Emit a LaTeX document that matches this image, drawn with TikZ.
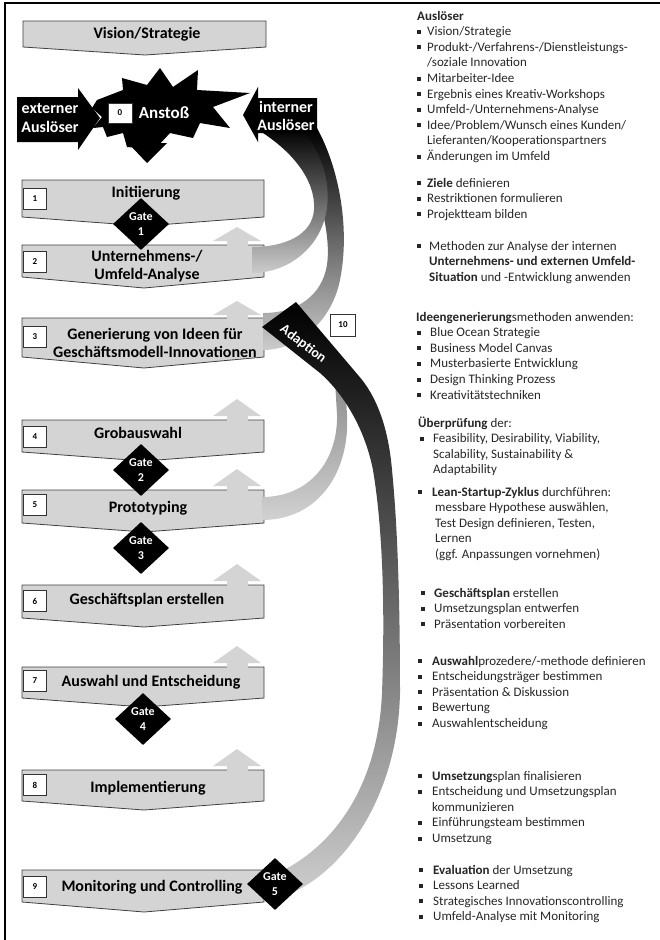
\documentclass[tikz,border=0pt]{standalone}
\usepackage{fontspec}
\setmainfont{Carlito}
\usetikzlibrary{shapes.geometric}
\definecolor{boxgray}{gray}{0.83}
\newcommand{\bul}[1][13pt]{\makebox[#1][l]{\rule[2pt]{4pt}{4pt}}}

\begin{document}
\begin{tikzpicture}[x=1pt, y=-1pt,
  box/.style={fill=boxgray, draw=black!75, line width=0.8pt},
  uparr/.style={fill=boxgray},
  num/.style={draw=black!80, fill=white, line width=0.7pt, minimum width=23pt, minimum height=21pt, inner sep=0pt, font=\fontsize{9}{10}\selectfont\bfseries},
  gate/.style={diamond, fill=black, text=white, minimum width=56pt, minimum height=52pt, inner sep=0pt, align=center, font=\fontsize{12}{15}\selectfont\bfseries},
  lbl/.style={align=center, inner sep=0pt, font=\fontsize{16}{18.5}\selectfont\bfseries},
  wlbl/.style={lbl, text=white},
  txt/.style={anchor=north west, inner sep=0pt, align=left, text=black!85, font=\fontsize{13}{15.6}\selectfont}]
  \useasboundingbox (0,0) rectangle (659,940);
  \draw[line width=2pt] (5,3) rectangle (700,1000);

  \draw[box] (23,21) -- (266,21) -- (266,47) -- (145,55) -- (23,47) -- cycle;
  \node[lbl] (vision) at (147,34) {Vision/Strategie};

  \draw[box] (22,180) -- (264,180) -- (264,217) -- (144,226) -- (22,217) -- cycle;
  \draw[box] (22,245) -- (264,245) -- (264,277) -- (144,288) -- (22,277) -- cycle;
  \draw[box] (22,318) -- (264,318) -- (264,357) -- (144,368) -- (22,357) -- cycle;
  \draw[box] (22,420) -- (264,420) -- (264,452) -- (144,461) -- (22,452) -- cycle;
  \draw[box] (22,490) -- (264,490) -- (264,523) -- (144,532) -- (22,523) -- cycle;
  \draw[box] (22,585) -- (264,585) -- (264,618) -- (144,627) -- (22,618) -- cycle;
  \draw[box] (22,667) -- (264,667) -- (264,698) -- (144,707) -- (22,698) -- cycle;
  \draw[box] (22,770) -- (264,770) -- (264,801) -- (144,810) -- (22,801) -- cycle;
  \draw[box] (22,870) -- (264,870) -- (264,902) -- (144,912) -- (22,902) -- cycle;

  \fill[uparr] (227,251) -- (227,241) -- (213,241) -- (237,227) -- (261,241) -- (248,241) -- (248,251) -- cycle;
  \fill[uparr] (227,324) -- (227,315) -- (213,315) -- (237,301) -- (261,315) -- (248,315) -- (248,324) -- cycle;
  \fill[uparr] (227,426) -- (227,416) -- (213,416) -- (237,399) -- (261,416) -- (248,416) -- (248,426) -- cycle;
  \fill[uparr] (227,496) -- (227,486) -- (213,486) -- (237,469) -- (261,486) -- (248,486) -- (248,496) -- cycle;
  \fill[uparr] (227,591) -- (227,581) -- (213,581) -- (237,564) -- (261,581) -- (248,581) -- (248,591) -- cycle;
  \fill[uparr] (227,673) -- (227,663) -- (213,663) -- (237,646) -- (261,663) -- (248,663) -- (248,673) -- cycle;
  \fill[uparr] (227,776) -- (227,766) -- (213,766) -- (237,749) -- (261,766) -- (248,766) -- (248,776) -- cycle;

  \node[num] (n1) at (35,199) {1};
  \node[num] (n2) at (35,262) {2};
  \node[num] (n3) at (35,337) {3};
  \node[num] (n4) at (35,437) {4};
  \node[num] (n5) at (35,505) {5};
  \node[num] (n6) at (35,601) {6};
  \node[num] (n7) at (35,681) {7};
  \node[num] (n8) at (35,785) {8};
  \node[num] (n9) at (35,887) {9};

  \node[lbl] (s1) at (146,193) {Initiierung};
  \node[lbl] (s2) at (147,266) {Unternehmens-/\\Umfeld-Analyse};
  \node[lbl] (s3) at (155,343) {Generierung von Ideen für\\Geschäftsmodell-Innovationen};
  \node[lbl] (s4) at (138,433) {Grobauswahl};
  \node[lbl] (s5) at (148,508) {Prototyping};
  \node[lbl] (s6) at (147,600) {Geschäftsplan erstellen};
  \node[lbl] (s7) at (151,682) {Auswahl und Entscheidung};
  \node[lbl] (s8) at (148,788) {Implementierung};
  \node[lbl] (s9) at (152,887) {Monitoring und Controlling};

  \shade[top color=black, bottom color=black!20] (285,128) -- (317,128) .. controls (340,170) and (350,230) .. (340,280) .. controls (332,320) and (300,350) .. (263,350) -- (263,313) .. controls (298,313) and (322,295) .. (327,265) .. controls (332,230) and (315,170) .. (285,128) -- cycle;
  \shade[top color=black, bottom color=black!20] (255,128) -- (300,128) .. controls (330,160) and (335,205) .. (318,235) .. controls (305,258) and (280,273) .. (252,273) -- (252,247) .. controls (285,247) and (312,235) .. (314,210) .. controls (316,180) and (292,150) .. (255,128) -- cycle;
  \shade[top color=black!45, bottom color=black!18] (262,520) .. controls (320,520) and (350,470) .. (347,415) -- (345,380) -- (335,380) -- (337,415) .. controls (338,460) and (310,497) .. (262,497) -- cycle;

  \shade[top color=black, middle color=black!92, bottom color=black!20] (262,327) -- (296,302) -- (358,375) .. controls (380,400) and (389,435) .. (392,470) .. controls (398,530) and (400,610) .. (400,693) .. controls (398,790) and (350,865) .. (294,892) -- (280,872) .. controls (335,845) and (378,785) .. (382,693) .. controls (385,610) and (383,530) .. (373,470) .. controls (365,430) and (345,395) .. (320,373) -- cycle;
  \node[wlbl, rotate=-37, font=\fontsize{14}{16}\selectfont\bfseries] (adapt) at (303,344) {Adaption};
  \node[num, minimum width=25pt, minimum height=22pt] (n10) at (343,325) {10};

  \node[gate] (g1) at (141,224) {Gate\\1};
  \node[gate] (g2) at (141,470) {Gate\\2};
  \node[gate] (g3) at (141,548) {Gate\\3};
  \node[gate] (g4) at (143,719) {Gate\\4};
  \node[gate] (g5) at (275,884) {Gate\\5};

  \fill (97,100) -- (123,90) -- (122,78) -- (147,85) -- (160,68) -- (173,87) -- (198,70) -- (197,90) -- (250,93) -- (213,107) -- (230,128) -- (200,123) -- (193,138) -- (170,133) -- (157,147) -- (150,142) -- (140,148) -- (127,147) -- (123,133) -- (107,137) -- (103,127) -- (93,128) -- (102,117) -- (92,108) -- cycle;
  \fill (137,130) -- (158,130) -- (158,143) -- (167,143) -- (147,163) -- (128,143) -- (137,143) -- cycle;
  \node[num, minimum width=24pt, minimum height=20pt] (n0) at (120,113) {0};
  \node[wlbl, font=\fontsize{17}{19}\selectfont\bfseries] (anstoss) at (164,113) {Anstoß};

  \fill (17,97) -- (78,97) -- (78,88) -- (100,118) -- (78,150) -- (78,142) -- (17,142) -- cycle;
  \node[wlbl] (ext) at (50,118) {externer\\Auslöser};
  \fill (317,98) -- (258,98) -- (258,87) -- (243,115) -- (258,142) -- (258,133) -- (317,133) -- cycle;
  \node[wlbl] (int) at (286,116) {interner\\Auslöser};

  \node[txt] (t1) at (417,9) {\strut\textbf{Auslöser}\\
    \bul[10pt]Vision/Strategie\\
    \bul[10pt]Produkt-/Verfahrens-/Dienstleistungs-\\
    \hspace*{10pt}/soziale Innovation\\
    \bul[10pt]Mitarbeiter-Idee\\
    \bul[10pt]Ergebnis eines Kreativ-Workshops\\
    \bul[10pt]Umfeld-/Unternehmens-Analyse\\
    \bul[10pt]Idee/Problem/Wunsch eines Kunden/\\
    \hspace*{10pt}Lieferanten/Kooperationspartners\\
    \bul[10pt]Änderungen im Umfeld};
  \node[txt] (t2) at (417,176) {\strut\bul[10pt]\textbf{Ziele} definieren\\
    \bul[10pt]Restriktionen formulieren\\
    \bul[10pt]Projektteam bilden};
  \node[txt] (t3) at (417,239) {\strut\bul[12pt]Methoden zur Analyse der internen\\
    \hspace*{12pt}\textbf{Unternehmens- und externen Umfeld-}\\
    \hspace*{12pt}\textbf{Situation} und -Entwicklung anwenden};
  \node[txt] (t4) at (416,310) {\strut\textbf{Ideengenerierung}smethoden anwenden:\\
    \hspace*{1pt}\bul Blue Ocean Strategie\\
    \hspace*{1pt}\bul Business Model Canvas\\
    \hspace*{1pt}\bul Musterbasierte Entwicklung\\
    \hspace*{1pt}\bul Design Thinking Prozess\\
    \hspace*{1pt}\bul Kreativitätstechniken};
  \node[txt] (t5) at (418,416) {\strut\textbf{Überprüfung} der:\\
    \hspace*{2pt}\bul Feasibility, Desirability, Viability,\\
    \hspace*{15pt}Scalability, Sustainability \&\\
    \hspace*{15pt}Adaptability};
  \node[txt] (t6) at (418,485) {\strut\bul[14pt]\textbf{Lean-Startup-Zyklus} durchführen:\\
    \hspace*{17pt}messbare Hypothese auswählen,\\
    \hspace*{17pt}Test Design definieren, Testen,\\
    \hspace*{17pt}Lernen\\
    \hspace*{17pt}(ggf. Anpassungen vornehmen)};
  \node[txt] (t7) at (421,586) {\strut\bul\textbf{Geschäftsplan} erstellen\\
    \bul Umsetzungsplan entwerfen\\
    \bul Präsentation vorbereiten};
  \node[txt] (t8) at (418,654) {\strut\bul[14pt]\textbf{Auswahl}prozedere/-methode definieren\\
    \bul[14pt]Entscheidungsträger bestimmen\\
    \bul[14pt]Präsentation \& Diskussion\\
    \bul[14pt]Bewertung\\
    \bul[14pt]Auswahlentscheidung};
  \node[txt] (t9) at (418,769) {\strut\bul[14pt]\textbf{Umsetzung}splan finalisieren\\
    \bul[14pt]Entscheidung und Umsetzungsplan\\
    \hspace*{14pt}kommunizieren\\
    \bul[14pt]Einführungsteam bestimmen\\
    \bul[14pt]Umsetzung};
  \node[txt] (t10) at (419,863) {\strut\bul[14pt]\textbf{Evaluation} der Umsetzung\\
    \bul[14pt]Lessons Learned\\
    \bul[14pt]Strategisches Innovationscontrolling\\
    \bul[14pt]Umfeld-Analyse mit Monitoring};
\end{tikzpicture}
\end{document}
